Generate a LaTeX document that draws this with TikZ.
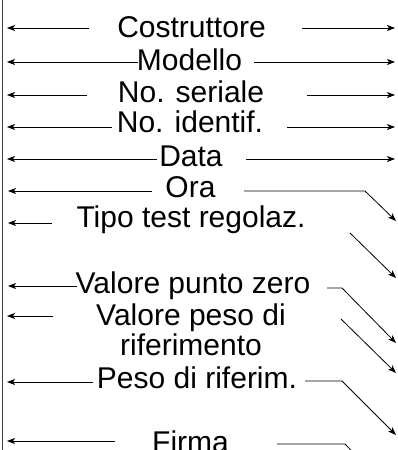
\documentclass[tikz,border=0pt]{standalone}
\usepackage{fontspec}
\setmainfont{Liberation Sans}
\usetikzlibrary{arrows.meta}
\begin{document}
\begin{tikzpicture}[x=1pt,y=-1pt,
  lbl/.style={anchor=base, inner sep=0pt, font=\fontsize{30}{30}\selectfont},
  arr/.style={-{Stealth[length=8pt,width=6pt,inset=2pt]}, line width=0.8pt},
  ln/.style={line width=0.8pt}]
\useasboundingbox (0,0) rectangle (397,450);
\clip (0,0) rectangle (397,450);
\fill[white] (0,0) rectangle (397,450);
% left border
\draw[line width=1.2pt, black!75] (2.5,-5) -- (2.5,455);
% labels
\node[lbl] (t1) at (191.5,37) {Costruttore};
\node[lbl] (t2) at (189.5,70) {Modello};
\node[lbl] (t3) at (191,102) {No. seriale};
\node[lbl] (t4) at (190,132) {No. identif.};
\node[lbl] (t5) at (191,166) {Data};
\node[lbl] (t6) at (190.5,197) {Ora};
\node[lbl] (t7) at (191,227) {Tipo test regolaz.};
\node[lbl] (t8) at (193,293) {Valore punto zero};
\node[lbl, align=center] (t9) at (191,355) {Valore peso di\\riferimento};
\node[lbl] (t10) at (197,388) {Peso di riferim.};
\node[lbl] (t11) at (190.5,452) {Firma};
% endpoint coordinates
\coordinate (l1a) at (89,28);   \coordinate (l1b) at (7,28);
\coordinate (r1a) at (302,28);  \coordinate (r1b) at (395,28);
\coordinate (l2a) at (138,62);  \coordinate (l2b) at (7,62);
\coordinate (r2a) at (254,62);  \coordinate (r2b) at (395,62);
\coordinate (l3a) at (87,95);   \coordinate (l3b) at (7,95);
\coordinate (r3a) at (307,95);  \coordinate (r3b) at (395,95);
\coordinate (l4a) at (112,127); \coordinate (l4b) at (7,127);
\coordinate (r4a) at (287,127); \coordinate (r4b) at (395,127);
\coordinate (l5a) at (157,159); \coordinate (l5b) at (7,159);
\coordinate (r5a) at (246,159); \coordinate (r5b) at (395,159);
\coordinate (l6a) at (152,191); \coordinate (l6b) at (8,191);
\coordinate (r6a) at (244,191); \coordinate (r6k) at (365,191); \coordinate (r6b) at (396,221);
\coordinate (l7a) at (52,223);  \coordinate (l7b) at (8,223);
\coordinate (r7a) at (350,233); \coordinate (r7b) at (396,278);
\coordinate (l8a) at (77,286);  \coordinate (l8b) at (8,286);
\coordinate (r8a) at (327,288); \coordinate (r8k) at (342,288); \coordinate (r8b) at (396,343);
\coordinate (l9a) at (53,316);  \coordinate (l9b) at (7,316);
\coordinate (r9a) at (341,319); \coordinate (r9b) at (396,373);
\coordinate (l10a) at (93,382); \coordinate (l10b) at (7,382);
\coordinate (r10a) at (305,381); \coordinate (r10k) at (342,381); \coordinate (r10b) at (396,435);
\coordinate (l11a) at (115,441); \coordinate (l11b) at (7,441);
\coordinate (r11a) at (277,444); \coordinate (r11k) at (345,444); \coordinate (r11b) at (396,497);
% connectors
\draw[arr] (l1a) -- (l1b);  \draw[arr] (r1a) -- (r1b);
\draw[arr] (l2a) -- (l2b);  \draw[arr] (r2a) -- (r2b);
\draw[arr] (l3a) -- (l3b);  \draw[arr] (r3a) -- (r3b);
\draw[arr] (l4a) -- (l4b);  \draw[arr] (r4a) -- (r4b);
\draw[arr] (l5a) -- (l5b);  \draw[arr] (r5a) -- (r5b);
\draw[arr] (l6a) -- (l6b);  \draw[arr] (r6a) -- (r6k) -- (r6b);
\draw[arr] (l7a) -- (l7b);  \draw[arr] (r7a) -- (r7b);
\draw[arr] (l8a) -- (l8b);  \draw[arr] (r8a) -- (r8k) -- (r8b);
\draw[arr] (l9a) -- (l9b);  \draw[arr] (r9a) -- (r9b);
\draw[arr] (l10a) -- (l10b); \draw[arr] (r10a) -- (r10k) -- (r10b);
\draw[arr] (l11a) -- (l11b); \draw[ln] (r11a) -- (r11k) -- (r11b);
\end{tikzpicture}
\end{document}
